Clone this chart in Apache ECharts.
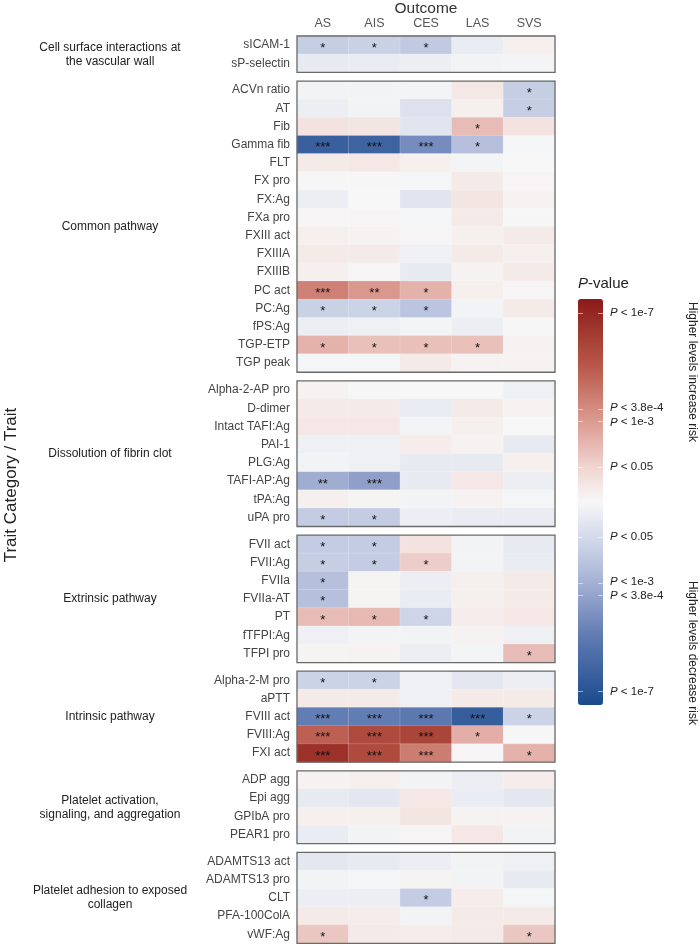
<!DOCTYPE html>
<html><head><meta charset="utf-8">
<script src="https://cdn.jsdelivr.net/npm/echarts@6/dist/echarts.min.js"></script>
<style>html,body{margin:0;padding:0;background:#fff}#c{width:700px;height:946px}</style>
</head><body><div id="c"></div>
<script>
// ---------- DATA (signed -log10(P): + = higher levels increase risk, - = decrease) ----------
const outcomes = ['AS', 'AIS', 'CES', 'LAS', 'SVS'];

const groupNames = [
  'Cell surface interactions at\nthe vascular wall',
  'Common pathway',
  'Dissolution of fibrin clot',
  'Extrinsic pathway',
  'Intrinsic pathway',
  'Platelet activation,\nsignaling, and aggregation',
  'Platelet adhesion to exposed\ncollagen'
];

const cellSurfaceTraits = ['sICAM-1', 'sP-selectin'];
const cellSurfaceValues = [
  [-1.8, -1.7, -2.0, -0.5, 0.3],
  [-0.6, -0.5, -0.4, -0.2, -0.15]
];

const commonTraits = ['ACVn ratio', 'AT', 'Fib', 'Gamma fib', 'FLT', 'FX pro', 'FX:Ag', 'FXa pro',
  'FXIII act', 'FXIIIA', 'FXIIIB', 'PC act', 'PC:Ag', 'fPS:Ag', 'TGP-ETP', 'TGP peak'];
const commonValues = [
  [-0.2, -0.2, -0.15, 0.6, -1.8],
  [-0.4, -0.2, -1.0, 0.3, -1.8],
  [0.8, 0.7, -0.8, 2.0, 0.8],
  [-6.4, -6.2, -4.3, -2.4, -0.1],
  [0.5, 0.6, 0.3, -0.15, 0.0],
  [0.05, 0.05, -0.1, 0.5, 0.1],
  [-0.4, 0.0, -0.8, 0.7, 0.2],
  [0.1, 0.1, -0.1, 0.5, 0.05],
  [0.3, 0.2, 0.1, 0.3, 0.5],
  [0.5, 0.5, -0.3, 0.5, 0.3],
  [0.3, 0.1, -0.6, 0.2, 0.5],
  [3.8, 3.1, 2.3, 0.3, 0.1],
  [-1.7, -1.6, -2.2, -0.2, 0.5],
  [-0.4, -0.3, -0.15, -0.4, 0.05],
  [2.3, 1.9, 1.9, 1.9, 0.2],
  [-0.1, -0.1, 0.5, 0.2, 0.2]
];

const dissolutionTraits = ['Alpha-2-AP pro', 'D-dimer', 'Intact TAFI:Ag', 'PAI-1', 'PLG:Ag', 'TAFI-AP:Ag', 'tPA:Ag', 'uPA pro'];
const dissolutionValues = [
  [0.2, 0.05, 0.0, 0.0, -0.3],
  [0.5, 0.5, -0.5, 0.5, 0.2],
  [0.6, 0.6, -0.15, 0.3, 0.0],
  [-0.3, -0.3, 0.4, 0.2, -0.6],
  [-0.2, -0.3, -0.6, -0.6, 0.3],
  [-3.1, -3.6, -0.6, 0.6, -0.4],
  [0.3, 0.15, -0.2, 0.2, -0.1],
  [-1.9, -1.9, -0.4, -0.5, -0.5]
];

const extrinsicTraits = ['FVII act', 'FVII:Ag', 'FVIIa', 'FVIIa-AT', 'PT', 'fTFPI:Ag', 'TFPI pro'];
const extrinsicValues = [
  [-1.9, -1.9, 0.8, -0.2, -0.6],
  [-1.8, -1.9, 1.5, -0.2, -0.5],
  [-2.4, 0.15, -0.4, 0.3, 0.5],
  [-2.4, 0.15, -0.5, 0.3, 0.5],
  [2.0, 2.1, -1.5, 0.4, 0.6],
  [-0.3, -0.2, -0.2, 0.2, -0.3],
  [0.15, 0.2, -0.4, -0.15, 2.0]
];

const intrinsicTraits = ['Alpha-2-M pro', 'aPTT', 'FVIII act', 'FVIII:Ag', 'FXI act'];
const intrinsicValues = [
  [-1.6, -1.6, -0.3, -0.7, -0.4],
  [0.5, 0.5, -0.3, 0.5, 0.5],
  [-4.9, -4.9, -5.1, -6.5, -1.6],
  [4.8, 5.6, 5.8, 2.4, 0.05],
  [6.6, 5.6, 3.9, 0.1, 2.3]
];

const activationTraits = ['ADP agg', 'Epi agg', 'GPIbA pro', 'PEAR1 pro'];
const activationValues = [
  [0.2, 0.3, -0.2, -0.4, 0.4],
  [-0.6, -0.7, 0.6, -0.5, -0.7],
  [0.3, 0.3, 0.7, 0.2, 0.2],
  [-0.5, -0.2, 0.1, 0.6, -0.2]
];

const adhesionTraits = ['ADAMTS13 act', 'ADAMTS13 pro', 'CLT', 'PFA-100ColA', 'vWF:Ag'];
const adhesionValues = [
  [-0.7, -0.6, -0.4, -0.2, -0.3],
  [-0.2, -0.1, 0.15, -0.2, -0.6],
  [-0.4, -0.4, -1.9, 0.4, -0.1],
  [0.5, 0.4, -0.2, 0.5, 0.5],
  [1.7, 0.5, 0.4, 0.5, 1.7]
];

// colour-bar ticks: signed -log10(P) and their labels
const legendTickValues = [7, 3.42, 3, 1.3, -1.3, -3, -3.42, -7];
const legendTickLabels = ['1e-7', '3.8e-4', '1e-3', '0.05', '0.05', '1e-3', '3.8e-4', '1e-7'];

// significance thresholds (-log10 P) for *, **, ***
const starThresholds = [1.3, 3, 3.42];

// ---------- LAYOUT ----------
const groups = [
  [cellSurfaceTraits, cellSurfaceValues],
  [commonTraits, commonValues],
  [dissolutionTraits, dissolutionValues],
  [extrinsicTraits, extrinsicValues],
  [intrinsicTraits, intrinsicValues],
  [activationTraits, activationValues],
  [adhesionTraits, adhesionValues]
];
const FONT = "'Liberation Sans', Arial, Helvetica, sans-serif";
const ROW = 18.2, GAP = 8.65, TOP = 36, LEFT = 297, WIDTH = 258;
const VMIN = -7.5, VMAX = 7.5;
const CB_LEFT = 578, CB_TOP = 299, CB_W = 25, CB_H = 406;

const grids = [], xAxes = [], yAxes = [], series = [], graphics = [];
let rowsBefore = 0;
groups.forEach(([traits, vals], gi) => {
  const top = TOP + rowsBefore * ROW + gi * GAP;
  const h = traits.length * ROW;
  rowsBefore += traits.length;
  grids.push({
    left: LEFT, top: top, width: WIDTH, height: h,
    show: true, backgroundColor: 'transparent',
    borderColor: '#6a6a6a', borderWidth: 1.3, z: 5
  });
  xAxes.push({
    type: 'category', data: outcomes, gridIndex: gi, position: 'top',
    show: gi === 0,
    axisLine: { show: false }, axisTick: { show: false }, splitLine: { show: false },
    axisLabel: { color: '#555', fontSize: 12.5, fontFamily: FONT, margin: 6 }
  });
  yAxes.push({
    type: 'category', data: traits, gridIndex: gi, inverse: true,
    axisLine: { show: false }, axisTick: { show: false }, splitLine: { show: false },
    axisLabel: { color: '#444', fontSize: 12, fontFamily: FONT, margin: 7 }
  });
  const data = [];
  vals.forEach((row, r) => row.forEach((v, c) => data.push([c, r, v])));
  series.push({
    type: 'heatmap', xAxisIndex: gi, yAxisIndex: gi, data: data,
    itemStyle: { borderColor: 'rgba(255,255,255,0.3)', borderWidth: 0.6 },
    emphasis: { disabled: true },
    label: {
      show: true, color: '#111', fontSize: 13, fontFamily: FONT, offset: [0, 3],
      formatter: p => {
        const a = Math.abs(p.value[2]);
        return a >= starThresholds[2] ? '***' : a >= starThresholds[1] ? '**' : a >= starThresholds[0] ? '*' : '';
      }
    }
  });
  graphics.push({
    type: 'text', silent: true,
    x: 110, y: top + h / 2,
    style: {
      text: groupNames[gi], fill: '#222', font: '12px ' + FONT,
      align: 'center', verticalAlign: 'middle', lineHeight: 14
    }
  });
});

// titles
graphics.push({
  type: 'text', x: LEFT + WIDTH / 2, y: 9, silent: true,
  style: { text: 'Outcome', fill: '#333', font: '15.5px ' + FONT, align: 'center', verticalAlign: 'middle' }
});
graphics.push({
  type: 'text', x: 11, y: 485, rotation: Math.PI / 2, silent: true,
  style: { text: 'Trait Category / Trait', fill: '#222', font: "17px 'Liberation Sans Narrow', " + FONT, align: 'center', verticalAlign: 'middle' }
});
graphics.push({
  type: 'text', x: CB_LEFT, y: 284, silent: true,
  style: {
    text: '{i|P}-value', fill: '#222', font: '15px ' + FONT, verticalAlign: 'middle',
    rich: { i: { fontStyle: 'italic', fontSize: 15, fontFamily: FONT, fill: '#222' } }
  }
});
// colour-bar tick labels and marks
const cbCenter = CB_TOP + CB_H / 2;
const pxPerUnit = CB_H / (VMAX - VMIN);
legendTickValues.forEach((v, i) => {
  let y = cbCenter - v * pxPerUnit;
  let ly = y;
  if (legendTickLabels[i] === '3.8e-4') ly += (v > 0 ? -1.5 : 1.5);
  if (legendTickLabels[i] === '1e-3') ly += (v > 0 ? 1.5 : -1.5);
  graphics.push({
    type: 'text', x: CB_LEFT + CB_W + 7, y: ly, silent: true, z: 10,
    style: {
      text: '{i|P} < ' + legendTickLabels[i], fill: '#222', font: '11.5px ' + FONT, verticalAlign: 'middle',
      rich: { i: { fontStyle: 'italic', fontSize: 11.5, fontFamily: FONT, fill: '#222' } }
    }
  });
  [[CB_LEFT, CB_LEFT + 5], [CB_LEFT + CB_W - 5, CB_LEFT + CB_W]].forEach(([a, b]) => {
    graphics.push({
      type: 'line', silent: true, z: 10,
      shape: { x1: a, y1: Math.round(y) + 0.5, x2: b, y2: Math.round(y) + 0.5 },
      style: { stroke: 'rgba(255,255,255,0.55)', lineWidth: 1 }
    });
  });
});
graphics.push({
  type: 'text', x: 692, y: 372, rotation: -Math.PI / 2, silent: true,
  style: { text: 'Higher levels increase risk', fill: '#222', font: '12px ' + FONT, align: 'center', verticalAlign: 'middle' }
});
graphics.push({
  type: 'text', x: 692, y: 653, rotation: -Math.PI / 2, silent: true,
  style: { text: 'Higher levels decrease risk', fill: '#222', font: '12px ' + FONT, align: 'center', verticalAlign: 'middle' }
});

const chart = echarts.init(document.getElementById('c'), null, { renderer: 'canvas' });
chart.setOption({
  animation: false,
  backgroundColor: '#fff',
  textStyle: { fontFamily: FONT },
  grid: grids, xAxis: xAxes, yAxis: yAxes, series: series,
  visualMap: {
    type: 'continuous', min: VMIN, max: VMAX, calculable: false, hoverLink: false,
    orient: 'vertical', left: CB_LEFT, top: CB_TOP, padding: 0,
    itemWidth: CB_W, itemHeight: CB_H,
    inRange: { color: ['#1a4a8c', '#3d62a0', '#5e7ab2', '#8a9bc7', '#b3bedb', '#d5dbeb', '#f7f7f7',
                       '#f0d6d2', '#e2aba3', '#cf8276', '#b9584b', '#a23a30', '#8b1a1a'] }
  },
  graphic: graphics
});
</script></body></html>
